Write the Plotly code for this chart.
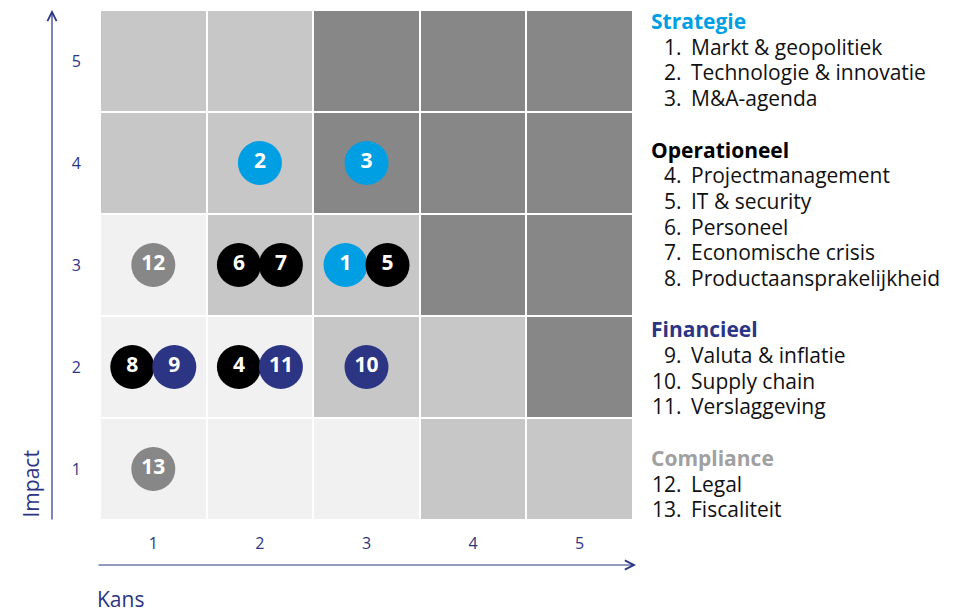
import plotly.graph_objects as go
from collections import defaultdict

# ---- data ----
kans_labels = ["1", "2", "3", "4", "5"]
impact_labels = ["1", "2", "3", "4", "5"]

# risk level of each cell, rows = impact 1..5, cols = kans 1..5
cell_level = [
    [0, 0, 0, 1, 1],  # impact 1
    [0, 0, 1, 1, 2],  # impact 2
    [0, 1, 1, 2, 2],  # impact 3
    [1, 1, 2, 2, 2],  # impact 4
    [1, 1, 2, 2, 2],  # impact 5
]

risk_ids = [1, 2, 3, 4, 5, 6, 7, 8, 9, 10, 11, 12, 13]
risk_names = ["Markt & geopolitiek", "Technologie & innovatie", "M&A-agenda",
              "Projectmanagement", "IT & security", "Personeel", "Economische crisis",
              "Productaansprakelijkheid", "Valuta & inflatie", "Supply chain",
              "Verslaggeving", "Legal", "Fiscaliteit"]
risk_kans = [3, 2, 3, 2, 3, 2, 2, 1, 1, 3, 2, 1, 1]
risk_impact = [3, 4, 4, 2, 3, 3, 3, 2, 2, 2, 2, 3, 1]
risk_cat = ["Strategie", "Strategie", "Strategie",
            "Operationeel", "Operationeel", "Operationeel", "Operationeel", "Operationeel",
            "Financieel", "Financieel", "Financieel",
            "Compliance", "Compliance"]

categories = ["Strategie", "Operationeel", "Financieel", "Compliance"]
cat_colors = {"Strategie": "#009fe3", "Operationeel": "#000000",
              "Financieel": "#2b3584", "Compliance": "#878787"}
heading_colors = {"Strategie": "#009fe3", "Operationeel": "#000000",
                  "Financieel": "#2b3584", "Compliance": "#a0a0a0"}

NAVY = "#2b3584"
FONT = "Open Sans"

# ---- spread risks that share a cell ----
groups = defaultdict(list)
for i in range(len(risk_ids)):
    groups[(risk_kans[i], risk_impact[i])].append(i)
xpos = [0.0] * len(risk_ids)
for key, idx in groups.items():
    n = len(idx)
    for j, i in enumerate(idx):
        xpos[i] = risk_kans[i] + (j - (n - 1) / 2) * 0.394

fig = go.Figure()

fig.add_trace(go.Heatmap(
    z=cell_level, x=[1, 2, 3, 4, 5], y=[1, 2, 3, 4, 5],
    colorscale=[[0, "#f1f1f1"], [0.5, "#c8c7c8"], [1, "#878787"]],
    zmin=0, zmax=2, showscale=False, xgap=2, ygap=2, hoverinfo="skip",
))

fig.add_trace(go.Scatter(
    x=xpos, y=risk_impact, mode="markers+text",
    text=[f"<b>{r}</b>" for r in risk_ids],
    textposition="middle center",
    textfont=dict(family=FONT, size=21, color="white"),
    marker=dict(size=44, color=[cat_colors[c] for c in risk_cat], line=dict(width=0)),
    hoverinfo="skip", showlegend=False,
))

fig.update_xaxes(range=[0.5, 5.5], tickvals=[1, 2, 3, 4, 5], ticktext=kans_labels,
                 showgrid=False, zeroline=False, showline=False, ticks="",
                 tickfont=dict(family=FONT, size=16, color=NAVY), ticklabelstandoff=12,
                 fixedrange=True)
fig.update_yaxes(range=[0.5, 5.5], tickvals=[1, 2, 3, 4, 5], ticktext=impact_labels,
                 showgrid=False, zeroline=False, showline=False, ticks="",
                 tickfont=dict(family=FONT, size=16, color=NAVY), ticklabelstandoff=18,
                 fixedrange=True)

# page body has an 8px margin; work in screen coords and shift
OFF = 8
W, H = 962 - OFF, 609 - OFF
L, R, T, B = 100 - OFF, 962 - 633, 10 - OFF, 609 - 520
pw, ph = W - L - R, H - T - B

def px(xs):
    return (xs - OFF - L) / pw

def py(ys):
    return (H - B - (ys - OFF)) / ph

ann = []
# axis arrows
ann.append(dict(xref="paper", yref="paper", x=px(52), y=py(10), ax=0, ay=511,
                axref="pixel", ayref="pixel", showarrow=True, arrowhead=5, arrowsize=1.5,
                arrowwidth=1.2, arrowcolor=NAVY, text=""))
ann.append(dict(xref="paper", yref="paper", x=px(636), y=py(565), ax=-539, ay=0,
                axref="pixel", ayref="pixel", showarrow=True, arrowhead=5, arrowsize=1.5,
                arrowwidth=1.2, arrowcolor=NAVY, text=""))
# axis titles
ann.append(dict(xref="paper", yref="paper", x=px(30), y=py(520), text="Impact",
                textangle=-90, showarrow=False, xanchor="center", yanchor="bottom",
                font=dict(family=FONT, size=21, color=NAVY)))
ann.append(dict(xref="paper", yref="paper", x=px(95), y=py(599), text="Kans",
                showarrow=False, xanchor="left", yanchor="middle",
                font=dict(family=FONT, size=21, color=NAVY)))

# legend
line_h = 25.7
y = 21
for c in categories:
    ann.append(dict(xref="paper", yref="paper", x=px(649), y=py(y), text=f"<b>{c}</b>",
                    showarrow=False, xanchor="left", yanchor="middle",
                    font=dict(family=FONT, size=21, color=heading_colors[c])))
    y += line_h
    for i in range(len(risk_ids)):
        if risk_cat[i] != c:
            continue
        ann.append(dict(xref="paper", yref="paper", x=px(684), y=py(y), text=f"{risk_ids[i]}.",
                        showarrow=False, xanchor="right", yanchor="middle",
                        font=dict(family=FONT, size=21, color="#111111")))
        ann.append(dict(xref="paper", yref="paper", x=px(689), y=py(y), text=risk_names[i],
                        showarrow=False, xanchor="left", yanchor="middle",
                        font=dict(family=FONT, size=21, color="#111111")))
        y += line_h
    y += line_h

fig.update_layout(
    width=W, height=H, margin=dict(l=L, r=R, t=T, b=B, pad=0),
    paper_bgcolor="white", plot_bgcolor="white",
    showlegend=False, annotations=ann,
    font=dict(family=FONT),
)

fig.write_html("out.html")
